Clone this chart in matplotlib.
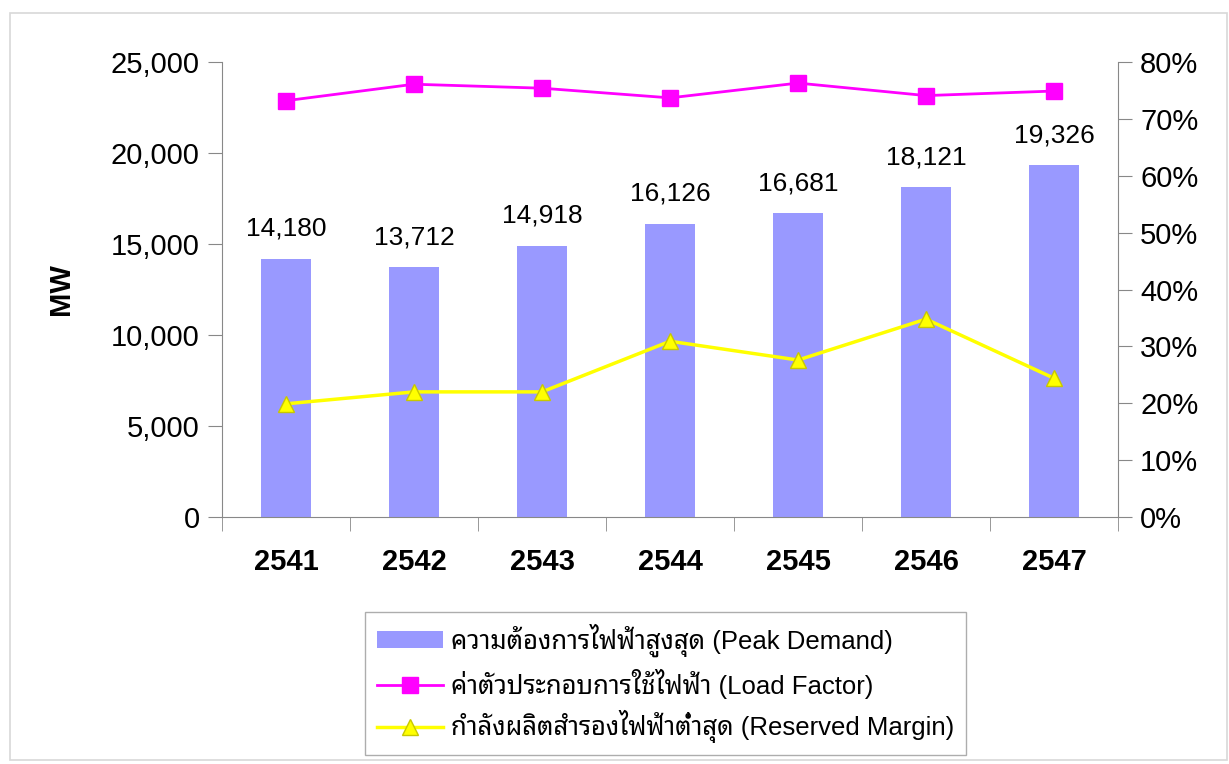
import numpy as np
import matplotlib.pyplot as plt
from matplotlib.patches import Rectangle
from matplotlib.ticker import FuncFormatter, MultipleLocator

plt.rcParams['font.family'] = ['Liberation Sans', 'Noto Sans Thai Looped', 'DejaVu Sans']

years = ['2541', '2542', '2543', '2544', '2545', '2546', '2547']
peak = [14180, 13712, 14918, 16126, 16681, 18121, 19326]
load_factor = [73.2, 76.1, 75.4, 73.7, 76.3, 74.1, 74.9]
reserve = [19.9, 22.0, 22.0, 30.9, 27.6, 34.8, 24.4]

lab_peak = 'ความต้องการไฟฟ้าสูงสุด (Peak Demand)'
lab_lf = 'ค่าตัวประกอบการใช้ไฟฟ้า (Load Factor)'
lab_rm = 'กำลังผลิตสำรองไฟฟ้าต่ำสุด (Reserved Margin)'

fig = plt.figure(figsize=(12.29, 7.64), dpi=100)
fig.patches.append(Rectangle((0.008, 0.005), 0.99, 0.978, transform=fig.transFigure,
                             fill=False, edgecolor='#d8d8d8', lw=1.2))

ax = fig.add_axes([0.1806, 0.3233, 0.7291, 0.5955])
x = np.arange(len(years))
bars = ax.bar(x, peak, width=0.39, color='#9999FF', label=lab_peak, zorder=2)
for xi, v in zip(x, peak):
    ax.text(xi, v + 1000, f'{v:,}', ha='center', va='bottom', fontsize=19)

ax.set_xlim(-0.5, len(years) - 0.5)
ax.set_ylim(0, 25000)
ax.yaxis.set_major_locator(MultipleLocator(5000))
ax.yaxis.set_major_formatter(FuncFormatter(lambda v, p: f'{v:,.0f}'))
ax.set_xticks(x)
ax.set_xticklabels(years, fontsize=21, fontweight='bold')
ax.set_xticks(np.arange(-0.5, len(years)), minor=True)
ax.tick_params(axis='x', which='major', length=0, pad=22)
ax.tick_params(axis='x', which='minor', length=10, color='#888888')
ax.tick_params(axis='y', labelsize=21, length=10, color='#888888', pad=6)
ax.set_ylabel('MW', fontsize=21, fontweight='bold', labelpad=26)
for s in ['top', 'right']:
    ax.spines[s].set_visible(False)
for s in ['left', 'bottom']:
    ax.spines[s].set_color('#888888')

ax2 = ax.twinx()
ax2.set_ylim(0, 80)
ax2.yaxis.set_major_locator(MultipleLocator(10))
ax2.yaxis.set_major_formatter(FuncFormatter(lambda v, p: f'{v:.0f}%'))
ax2.tick_params(axis='y', labelsize=21, length=10, color='#888888', pad=6)
for s in ['top', 'left', 'bottom']:
    ax2.spines[s].set_visible(False)
ax2.spines['right'].set_color('#888888')

l1, = ax2.plot(x, load_factor, color='#FF00FF', lw=2, marker='s', markersize=11,
               label=lab_lf, zorder=3)
l2, = ax2.plot(x, reserve, color='#FFFF00', lw=2.5, marker='^', markersize=12,
               markeredgecolor='#c8c800', label=lab_rm, zorder=3)

fig.legend(handles=[bars, l1, l2], loc='lower left', bbox_to_anchor=(0.297, 0.012),
           borderaxespad=0, fontsize=18.5, frameon=True, fancybox=False,
           edgecolor='#999999', handlelength=2.6, handleheight=0.6,
           labelspacing=0.45, borderpad=0.45, handletextpad=0.3)

fig.savefig('out.png', dpi=100)
